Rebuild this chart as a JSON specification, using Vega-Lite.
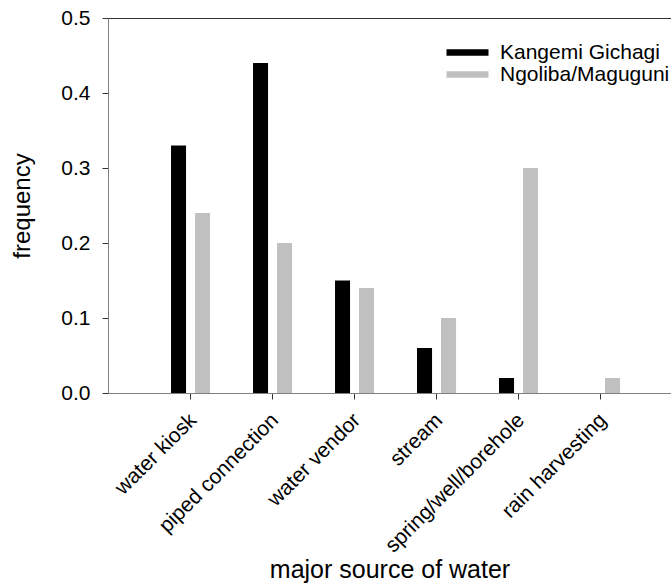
{
  "$schema": "https://vega.github.io/schema/vega-lite/v6.json",
  "autosize": "none",
  "padding": {"left": 108, "top": 18, "right": 0, "bottom": 195},
  "width": 563,
  "height": 375,
  "background": "white",
  "config": {
    "font": "Liberation Sans",
    "view": {"stroke": "#333", "strokeWidth": 1}
  },
  "data": {
    "values": [
      {"source": "water kiosk", "site": "Kangemi Gichagi", "frequency": 0.33},
      {"source": "water kiosk", "site": "Ngoliba/Maguguni", "frequency": 0.24},
      {"source": "piped connection", "site": "Kangemi Gichagi", "frequency": 0.44},
      {"source": "piped connection", "site": "Ngoliba/Maguguni", "frequency": 0.20},
      {"source": "water vendor", "site": "Kangemi Gichagi", "frequency": 0.15},
      {"source": "water vendor", "site": "Ngoliba/Maguguni", "frequency": 0.14},
      {"source": "stream", "site": "Kangemi Gichagi", "frequency": 0.06},
      {"source": "stream", "site": "Ngoliba/Maguguni", "frequency": 0.10},
      {"source": "spring/well/borehole", "site": "Kangemi Gichagi", "frequency": 0.02},
      {"source": "spring/well/borehole", "site": "Ngoliba/Maguguni", "frequency": 0.30},
      {"source": "rain harvesting", "site": "Kangemi Gichagi", "frequency": 0.0},
      {"source": "rain harvesting", "site": "Ngoliba/Maguguni", "frequency": 0.02}
    ]
  },
  "mark": {"type": "bar"},
  "encoding": {
    "x": {
      "field": "source",
      "type": "nominal",
      "sort": null,
      "scale": {"paddingInner": 0.524, "paddingOuter": 0.695, "align": 0.553},
      "axis": {
        "title": "major source of water",
        "titleFontSize": 25,
        "titleFontWeight": "normal",
        "titleColor": "#000",
        "titlePadding": 2,
        "labelAngle": -45,
        "labelFontSize": 21,
        "labelLimit": 0,
        "labelColor": "#000",
        "labelPadding": 10,
        "labelOffset": -5,
        "domainColor": "#808080",
        "tickColor": "#333",
        "tickSize": 6
      }
    },
    "xOffset": {
      "field": "site",
      "type": "nominal",
      "scale": {"paddingInner": 0.375, "paddingOuter": 0}
    },
    "y": {
      "field": "frequency",
      "type": "quantitative",
      "scale": {"domain": [0, 0.5], "nice": false},
      "axis": {
        "values": [0, 0.1, 0.2, 0.3, 0.4, 0.5],
        "format": ".1f",
        "title": "frequency",
        "titleFontSize": 24,
        "titleFontWeight": "normal",
        "titleColor": "#000",
        "titlePadding": 26,
        "labelFontSize": 21,
        "labelColor": "#000",
        "labelPadding": 12,
        "grid": false,
        "domainColor": "#808080",
        "tickColor": "#333",
        "tickSize": 6
      }
    },
    "color": {
      "field": "site",
      "type": "nominal",
      "scale": {"domain": ["Kangemi Gichagi", "Ngoliba/Maguguni"], "range": ["#000000", "#c0c0c0"]},
      "legend": {
        "title": null,
        "orient": "none",
        "legendX": 349,
        "legendY": 24,
        "symbolType": "M-2.1,-0.33L2.1,-0.33L2.1,0.33L-2.1,0.33Z",
        "symbolSize": 400,
        "symbolStrokeWidth": 0,
        "labelFontSize": 21,
        "labelLimit": 0,
        "labelColor": "#000",
        "labelOffset": 22,
        "rowPadding": 0
      }
    }
  }
}
